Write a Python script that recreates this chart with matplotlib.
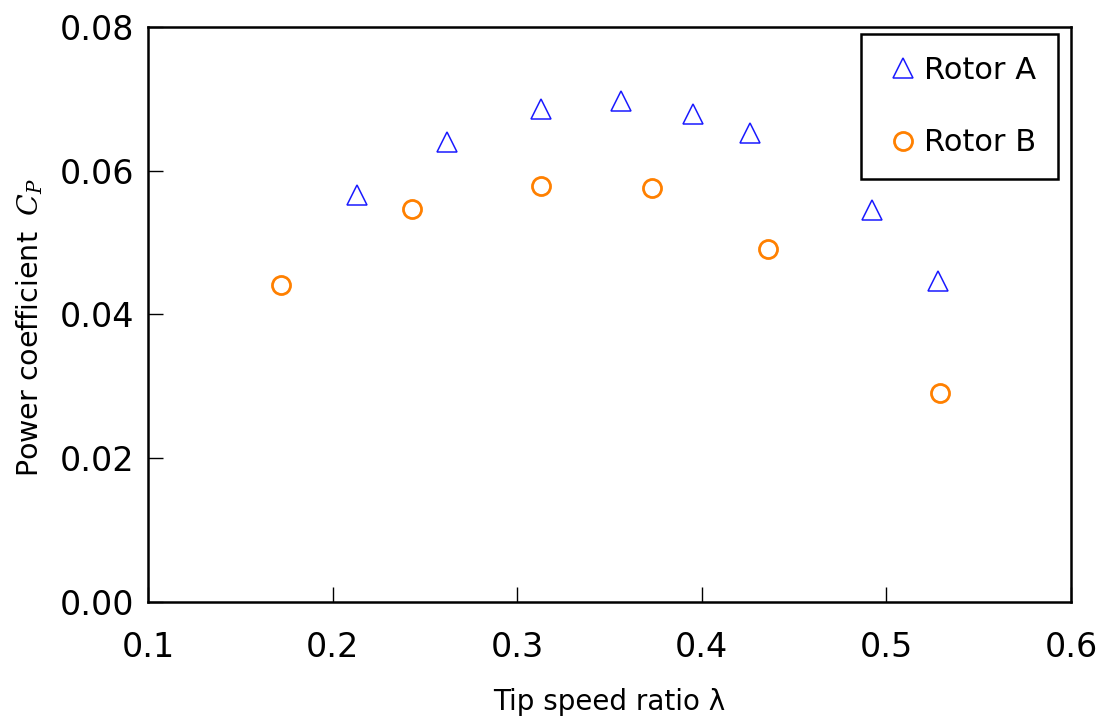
"""
Power coefficient vs tip speed ratio for two rotors
"""
import matplotlib
matplotlib.use('Agg')
from matplotlib import pyplot as plt

plt.rcParams['font.family'] = ['DejaVu Sans']
plt.rcParams['mathtext.fontset'] = 'custom'
plt.rcParams['mathtext.it'] = 'DejaVu Serif:italic'

# Rotor A (triangles)
tsr_a = [0.213, 0.262, 0.313, 0.356, 0.395, 0.426, 0.492, 0.528]
cp_a = [0.0566, 0.0640, 0.0686, 0.0697, 0.0679, 0.0653, 0.0545, 0.0447]

# Rotor B (circles)
tsr_b = [0.172, 0.243, 0.313, 0.373, 0.436, 0.529]
cp_b = [0.0441, 0.0547, 0.0579, 0.0576, 0.0491, 0.0291]

xticks = [0.1, 0.2, 0.3, 0.4, 0.5, 0.6]
yticks = [0.00, 0.02, 0.04, 0.06, 0.08]


def main():
    fig = plt.figure(figsize=(11.01, 7.2), dpi=100)
    ax = fig.add_axes([0.1344, 0.1639, 0.8384, 0.7986])

    ax.plot(tsr_a, cp_a, ls='none', marker='^', ms=14, mfc='none',
            mec='#1a1aff', mew=1.1, label='Rotor A')
    ax.plot(tsr_b, cp_b, ls='none', marker='o', ms=13, mfc='none',
            mec='#ff8000', mew=2.0, label='Rotor B')

    ax.set_xlim(0.1, 0.6)
    ax.set_ylim(0.0, 0.08)
    ax.set_xticks(xticks)
    ax.set_xticklabels([f'{v:.1f}' for v in xticks])
    ax.set_yticks(yticks)
    ax.set_yticklabels([f'{v:.2f}' for v in yticks])

    for s in ax.spines.values():
        s.set_linewidth(1.8)
    ax.tick_params(direction='in', length=11, width=1.0, labelsize=24)
    ax.tick_params(axis='x', pad=21)
    ax.tick_params(axis='y', pad=10)

    ax.set_xlabel('Tip speed ratio λ', fontsize=20, labelpad=17)
    ax.set_ylabel(r'Power coefficient $\;C_P$', fontsize=20.5)
    ax.yaxis.set_label_coords(-0.112, 0.478)

    leg = ax.legend(loc='upper right', bbox_to_anchor=(0.986, 0.988),
                    borderaxespad=0, fancybox=False, fontsize=22,
                    labelspacing=1.42, handlelength=1.28, handletextpad=0.05,
                    borderpad=0.72, edgecolor='black', framealpha=1)
    leg.get_frame().set_linewidth(1.8)

    fig.savefig('out.png', dpi=100)


if __name__ == '__main__':
    main()
